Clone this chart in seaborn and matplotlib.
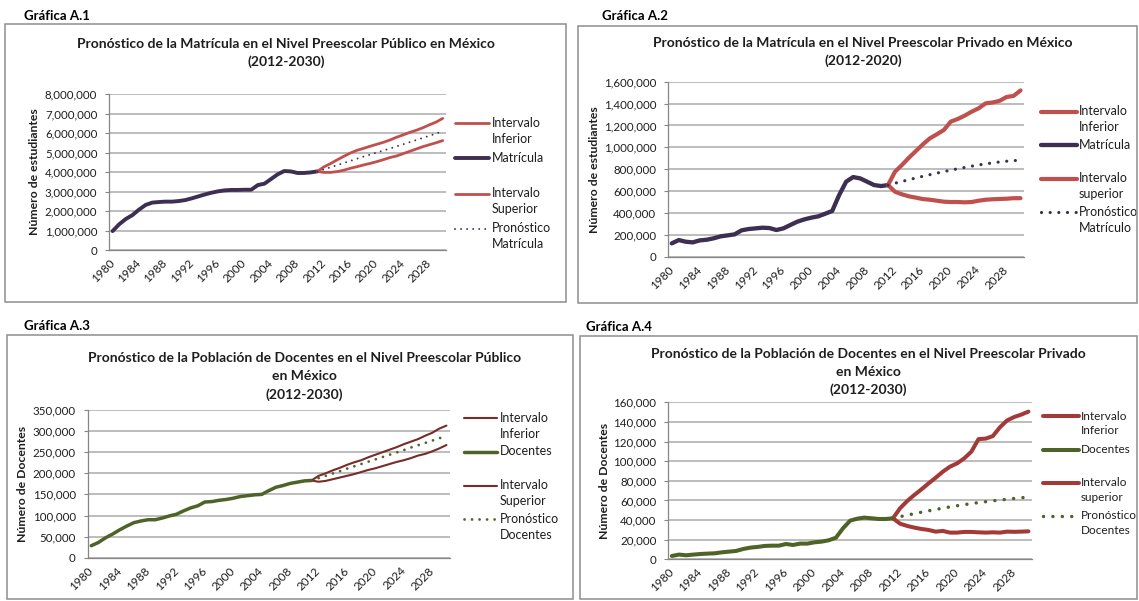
import numpy as np
import pandas as pd
import matplotlib
matplotlib.use("Agg")
import matplotlib.pyplot as plt
import seaborn as sns
from matplotlib.patches import Rectangle
from matplotlib.lines import Line2D
from matplotlib.legend_handler import HandlerLine2D
from matplotlib.ticker import FuncFormatter, FixedLocator

# ---------------- DATA ----------------
years_hist = list(range(1980, 2012))
years_fc = list(range(2011, 2031))
xtick_years = list(range(1980, 2029, 4))

# Gráfica A.1  (matrícula preescolar pública)
a1_matricula = [970000, 1320000, 1590000, 1790000, 2070000, 2310000, 2430000, 2460000, 2480000, 2480000,
                2510000, 2560000, 2650000, 2750000, 2850000, 2940000, 3010000, 3060000, 3080000, 3080000,
                3090000, 3090000, 3330000, 3400000, 3640000, 3880000, 4050000, 4030000, 3950000, 3950000,
                3980000, 4030000]
a1_inferior = [4030000, 3980000, 3980000, 4020000, 4090000, 4190000, 4270000, 4360000, 4440000, 4530000,
               4630000, 4740000, 4820000, 4940000, 5060000, 5180000, 5300000, 5400000, 5500000, 5610000]
a1_superior = [4030000, 4260000, 4430000, 4620000, 4800000, 4970000, 5110000, 5210000, 5320000, 5420000,
               5520000, 5640000, 5780000, 5900000, 6030000, 6140000, 6270000, 6420000, 6560000, 6750000]
a1_pronostico = [4030000, 4130000, 4240000, 4350000, 4460000, 4570000, 4680000, 4790000, 4890000, 5000000,
                 5100000, 5200000, 5310000, 5420000, 5530000, 5640000, 5750000, 5860000, 5970000, 6100000]

# Gráfica A.2  (matrícula preescolar privada)
a2_matricula = [122000, 152000, 137000, 131000, 149000, 155000, 168000, 186000, 195000, 204000,
                241000, 253000, 259000, 265000, 262000, 244000, 259000, 290000, 320000, 341000,
                357000, 369000, 393000, 418000, 564000, 686000, 728000, 716000, 686000, 655000,
                646000, 655000]
a2_inferior = [655000, 594000, 570000, 552000, 540000, 527000, 521000, 512000, 503000, 500000,
               500000, 497000, 500000, 512000, 521000, 525000, 528000, 530000, 535000, 535000]
a2_superior = [655000, 777000, 838000, 905000, 966000, 1027000, 1082000, 1119000, 1158000, 1235000,
               1259000, 1290000, 1326000, 1357000, 1402000, 1410000, 1425000, 1460000, 1470000, 1520000]
a2_pronostico = [655000, 672000, 688000, 704000, 720000, 735000, 750000, 764000, 778000, 791000,
                 804000, 816000, 828000, 839000, 849000, 858000, 866000, 873000, 878000, 882000]

# Gráfica A.3  (docentes preescolar público)
a3_docentes = [28400, 36000, 47000, 56000, 66000, 75000, 83000, 87000, 90000, 90000,
               94000, 99000, 103000, 111000, 118000, 123000, 132000, 133000, 136000, 138000,
               141000, 145000, 147000, 149000, 150000, 159000, 167000, 171000, 176000, 179000,
               182000, 183000]
a3_inferior = [183000, 180000, 182000, 186000, 190000, 194000, 198000, 203000, 208000, 212000,
               217000, 222000, 227000, 231000, 236000, 242000, 246000, 252000, 259000, 267000]
a3_superior = [183000, 194000, 200000, 207000, 213000, 220000, 226000, 231000, 238000, 244000,
               250000, 256000, 262000, 269000, 275000, 281000, 289000, 296000, 306000, 313000]
a3_pronostico = [183000, 188500, 194000, 199500, 205000, 211000, 216500, 222000, 227500, 233000,
                 238500, 244000, 249500, 255000, 261000, 266500, 272000, 277500, 283000, 289000]

# Gráfica A.4  (docentes preescolar privado)
a4_docentes = [3400, 4800, 4100, 4800, 5400, 5800, 6100, 7100, 7800, 8500,
               10500, 11900, 12600, 13600, 13900, 13900, 15600, 14600, 16000, 16000,
               17300, 18000, 19400, 22000, 31600, 39400, 41400, 42500, 41800, 41100,
               41100, 41800]
a4_inferior = [41800, 36300, 34000, 32300, 30900, 29900, 28200, 28900, 27200, 27200,
               27900, 27900, 27500, 27200, 27500, 27200, 28200, 28000, 28200, 28500]
a4_superior = [41800, 52000, 59400, 65600, 71300, 77400, 83200, 89300, 94400, 97800,
               102900, 109700, 122500, 123000, 125500, 134500, 141500, 145000, 147500, 150500]
a4_pronostico = [41800, 43500, 45000, 46500, 48000, 49400, 50800, 52100, 53400, 54600,
                 55700, 56800, 57800, 58700, 59600, 60400, 61200, 62000, 62700, 63400]

# ---------------- STYLE ----------------
sns.set_style("white")
plt.rcParams['font.family'] = ['Lato', 'DejaVu Sans']
TXT = '#1E1E1E'
W, H = 1139, 601
fig = plt.figure(figsize=(W / 100, H / 100), dpi=100)
fig.patch.set_facecolor('white')
LEG_LS = 1.4


def fx(x):
    return x / W


def fy(y):
    return 1 - y / H


def add_box(x0, y0, x1, y1):
    fig.add_artist(Rectangle((fx(x0), fy(y1)), fx(x1) - fx(x0), fy(y0) - fy(y1),
                             transform=fig.transFigure, fill=False, ec='#8E8E8E', lw=1.1))


class TopLine(HandlerLine2D):
    """Legend handle aligned with the first text line (Excel style)."""
    def __init__(self, shift, **kw):
        super().__init__(**kw)
        self.shift = shift

    def create_artists(self, legend, orig_handle, xdescent, ydescent, width, height, fontsize, trans):
        return super().create_artists(legend, orig_handle, xdescent, ydescent - 2 * self.shift,
                                      width, height, fontsize, trans)


fmt = FuncFormatter(lambda v, p: f"{int(round(v)):,}")


def make_legend(ax, p, labelspacing, shift):
    fs = p['fs']
    leg = ax.legend(p['handles'], p['labels'], loc='upper left',
                    bbox_to_anchor=(fx(p['leg_x']), fy(p['leg_y'] - 7.5)), bbox_transform=fig.transFigure,
                    frameon=False, fontsize=fs, borderpad=0, borderaxespad=0,
                    handlelength=p['handle_px'] * 0.72 / fs,
                    handletextpad=p['text_gap'] * 0.72 / fs,
                    labelspacing=labelspacing, handler_map={Line2D: TopLine(shift)})
    for t in leg.get_texts():
        t.set_linespacing(LEG_LS)
        t.set_color(TXT)
    return leg


def panel(box, axpx, tag, tagxy, title, titlexy, title_ls, ylabel, ylabel_x,
          ymax, ystep, hist, lo, hi, fc, c_hist, c_int, lw_hist, lw_int, lw_dot, dot_gap,
          labels, leg_x, leg_y, leg_pitch, handle_px, text_gap, leg_fs=9.0):
    add_box(*box)
    fig.text(fx(tagxy[0]), fy(tagxy[1]), tag, ha='left', va='center', fontsize=9.5,
             fontweight='bold', color='black')
    fig.text(fx(titlexy[0]), fy(titlexy[1]), title, ha='center', va='center', fontsize=10,
             fontweight='bold', color=TXT, linespacing=title_ls)
    x0, y0, x1, y1 = axpx
    ax = fig.add_axes([fx(x0), fy(y1), fx(x1) - fx(x0), fy(y0) - fy(y1)])
    ax.set_facecolor('white')

    sns.lineplot(x=years_fc, y=lo, ax=ax, color=c_int, linewidth=lw_int, errorbar=None,
                 solid_capstyle='round', solid_joinstyle='round')
    h_lo = ax.lines[-1]
    sns.lineplot(x=years_hist, y=hist, ax=ax, color=c_hist, linewidth=lw_hist, errorbar=None,
                 solid_capstyle='round', solid_joinstyle='round')
    h_hist = ax.lines[-1]
    sns.lineplot(x=years_fc, y=hi, ax=ax, color=c_int, linewidth=lw_int, errorbar=None,
                 solid_capstyle='round', solid_joinstyle='round')
    h_hi = ax.lines[-1]
    sns.lineplot(x=years_fc, y=fc, ax=ax, color=c_hist, linewidth=lw_dot, errorbar=None,
                 linestyle=(0, (0.01, dot_gap)), dash_capstyle='round')
    h_fc = ax.lines[-1]

    ax.set_xlim(1979.5, 2030.5)
    ax.set_ylim(0, ymax)
    ax.yaxis.set_major_locator(FixedLocator(np.arange(0, ymax + ystep / 2, ystep)))
    ax.yaxis.set_major_formatter(fmt)
    ax.xaxis.set_major_locator(FixedLocator(xtick_years))
    ax.xaxis.set_minor_locator(FixedLocator(np.arange(1979.5, 2031, 1.0)))
    ax.set_xticklabels([str(y) for y in xtick_years], rotation=45, ha='right', va='center',
                       rotation_mode='anchor')
    ax.tick_params(axis='x', which='major', length=0, pad=8, labelsize=8.5, labelcolor=TXT)
    ax.tick_params(axis='x', which='minor', length=2.6, width=0.8, color='#868686', direction='out')
    ax.tick_params(axis='y', which='major', length=2.6, width=0.8, color='#868686', direction='out',
                   pad=6, labelsize=8.3, labelcolor=TXT, left=True)
    ax.yaxis.grid(True, color='#ABABAB', lw=1.1)
    ax.xaxis.grid(False)
    ax.set_axisbelow(True)
    for s in ['top', 'right']:
        ax.spines[s].set_visible(False)
    for s in ['left', 'bottom']:
        ax.spines[s].set_color('#868686')
        ax.spines[s].set_linewidth(0.9)
    ax.set_xlabel('')
    ax.set_ylabel(ylabel, fontsize=8.8, fontweight='bold', color=TXT)
    ax.yaxis.label.set_va('center')
    ax.yaxis.set_label_coords((ylabel_x - x0) / (x1 - x0), 0.5)

    p = dict(handles=[h_lo, h_hist, h_hi, h_fc], labels=labels, leg_x=leg_x, leg_y=leg_y,
             pitch=leg_pitch, handle_px=handle_px, text_gap=text_gap, fs=leg_fs)
    make_legend(ax, p, 0.3, 5.5)
    return ax, p


PURPLE = '#3D2F52'
RED = '#C0504D'
MAROON = '#772B2B'
RED4 = '#A33A38'
GREEN = '#4F6228'

t1 = "Pronóstico de la Matrícula en el Nivel Preescolar Público en México\n(2012-2030)"
t2 = "Pronóstico de la Matrícula en el Nivel Preescolar Privado en México\n(2012-2020)"
t3 = "Pronóstico de la Población de Docentes en el Nivel Preescolar Público\nen México\n(2012-2030)"
t4 = "Pronóstico de la Población de Docentes en el Nivel Preescolar Privado\nen México\n(2012-2030)"

lab1 = ["Intervalo\nInferior", "Matrícula\n ", "Intervalo\nSuperior", "Pronóstico\nMatrícula"]
lab2 = ["Intervalo\nInferior", "Matrícula\n ", "Intervalo\nsuperior", "Pronóstico\nMatrículo"]
lab3 = ["Intervalo\nInferior", "Docentes\n ", "Intervalo\nSuperior", "Pronóstico\nDocentes"]
lab4 = ["Intervalo\nInferior", "Docentes\n ", "Intervalo\nsuperior", "Pronóstico\nDocentes"]

panels = []
panels.append(panel((4.7, 24.3, 566, 302), (109.3, 94, 446, 250), "Gráfica A.1", (24, 16),
                    t1, (286, 53.3), 1.5, "Número de estudiantes", 34.7,
                    8000000, 1000000, a1_matricula, a1_inferior, a1_superior, a1_pronostico,
                    PURPLE, RED, 2.8, 2.0, 1.4, 3.1, lab1, 455, 124, 35.3, 34, 3))
panels.append(panel((578, 26, 1136.5, 303), (668.3, 81.7, 1024, 256.7), "Gráfica A.2", (602, 16),
                    t2, (863, 52.2), 1.5, "Número de estudiantes", 594.8,
                    1600000, 200000, a2_matricula, a2_inferior, a2_superior, a2_pronostico,
                    PURPLE, RED, 3.1, 3.0, 2.3, 2.7, lab2, 1041, 112.7, 33.5, 36, 1.5))
panels.append(panel((6.6, 334.7, 572.7, 599), (87.7, 410, 450, 557.7), "Gráfica A.3", (24, 326),
                    t3, (304.7, 376.3), 1.58, "Número de Docentes", 22.6,
                    350000, 50000, a3_docentes, a3_inferior, a3_superior, a3_pronostico,
                    GREEN, MAROON, 2.5, 1.5, 2.0, 2.7, lab3, 463.5, 419, 33.7, 33.5, 3))
panels.append(panel((580, 335.7, 1136.5, 599), (668.3, 402.3, 1032, 559.3), "Gráfica A.4", (585.7, 327),
                    t4, (868, 372), 1.58, "Número de Docentes", 604.7,
                    160000, 20000, a4_docentes, a4_inferior, a4_superior, a4_pronostico,
                    GREEN, RED4, 2.9, 2.9, 2.5, 2.7, lab4, 1043, 418, 33.3, 36, 1.5, leg_fs=8.5))

# second pass: measure the legend text and rebuild it with the reference pitch
fig.canvas.draw()
renderer = fig.canvas.get_renderer()
for ax, p in panels:
    probe = fig.text(0, 0, "Intervalo", fontsize=p['fs'])
    h1 = probe.get_window_extent(renderer).height
    probe.remove()
    leg = ax.get_legend()
    texts = leg.get_texts()
    b0 = texts[0].get_window_extent(renderer)
    b1 = texts[1].get_window_extent(renderer)
    h2 = b0.height
    cur_pitch = b0.y1 - b1.y1
    new_ls = 0.3 + (p['pitch'] - cur_pitch) * 0.72 / p['fs']
    shift = (h2 - h1) / 2 * 0.72
    make_legend(ax, p, new_ls, shift)

fig.savefig("out.png", dpi=100, facecolor='white')
